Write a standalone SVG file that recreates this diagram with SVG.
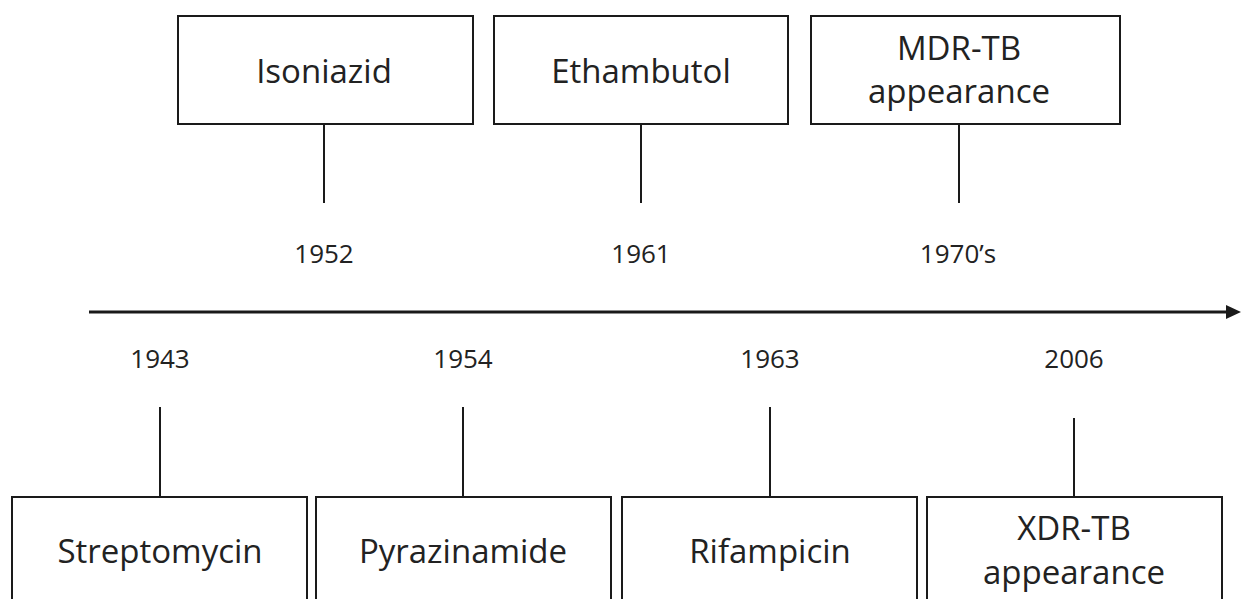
<svg xmlns="http://www.w3.org/2000/svg" width="1241" height="599" viewBox="0 0 1241 599">
<style>
.box{fill:#fff;stroke:#1a1a1a;stroke-width:2}
.ln{stroke:#1a1a1a;stroke-width:2;fill:none}
.t{font-family:"Open Sans","Liberation Sans",sans-serif;font-size:33px;fill:#222;text-anchor:middle}
.y{font-family:"Open Sans","Liberation Sans",sans-serif;font-size:26px;fill:#222;text-anchor:middle}
</style>
<rect width="1241" height="599" fill="#fff"/>
<g id="connectors">
<line class="ln" x1="324" y1="124" x2="324" y2="203"/>
<line class="ln" x1="641" y1="124" x2="641" y2="203"/>
<line class="ln" x1="959" y1="124" x2="959" y2="203"/>
<line class="ln" x1="160" y1="407" x2="160" y2="497"/>
<line class="ln" x1="463" y1="407" x2="463" y2="497"/>
<line class="ln" x1="770" y1="407" x2="770" y2="497"/>
<line class="ln" x1="1074" y1="418" x2="1074" y2="497"/>
<path d="M89,312 L1228,312" stroke="#1a1a1a" stroke-width="3" fill="none"/>
<path d="M1226,305 L1241,312 L1226,319 Z" fill="#1a1a1a"/>
</g>
<g id="isoniazid"><rect class="box" x="178" y="16" width="295" height="108"/><text class="t" x="324" y="83">Isoniazid</text></g>
<g id="ethambutol"><rect class="box" x="494" y="16" width="294" height="108"/><text class="t" x="641" y="83">Ethambutol</text></g>
<g id="mdr"><rect class="box" x="811" y="16" width="309" height="108"/><text class="t" x="959" y="60">MDR-TB</text><text class="t" x="959" y="103">appearance</text></g>
<g id="y1952"><text class="y" x="324" y="263">1952</text></g>
<g id="y1961"><text class="y" x="641" y="263">1961</text></g>
<g id="y1970"><text class="y" x="958" y="263">1970’s</text></g>
<g id="y1943"><text class="y" x="160" y="368">1943</text></g>
<g id="y1954"><text class="y" x="463" y="368">1954</text></g>
<g id="y1963"><text class="y" x="770" y="368">1963</text></g>
<g id="y2006"><text class="y" x="1074" y="368">2006</text></g>
<g id="streptomycin"><rect class="box" x="12" y="497" width="295" height="130"/><text class="t" x="160" y="563">Streptomycin</text></g>
<g id="pyrazinamide"><rect class="box" x="316" y="497" width="295" height="130"/><text class="t" x="463" y="563">Pyrazinamide</text></g>
<g id="rifampicin"><rect class="box" x="622" y="497" width="295" height="130"/><text class="t" x="770" y="563">Rifampicin</text></g>
<g id="xdr"><rect class="box" x="927" y="497" width="295" height="130"/><text class="t" x="1074" y="540">XDR-TB</text><text class="t" x="1074" y="584">appearance</text></g>
</svg>
